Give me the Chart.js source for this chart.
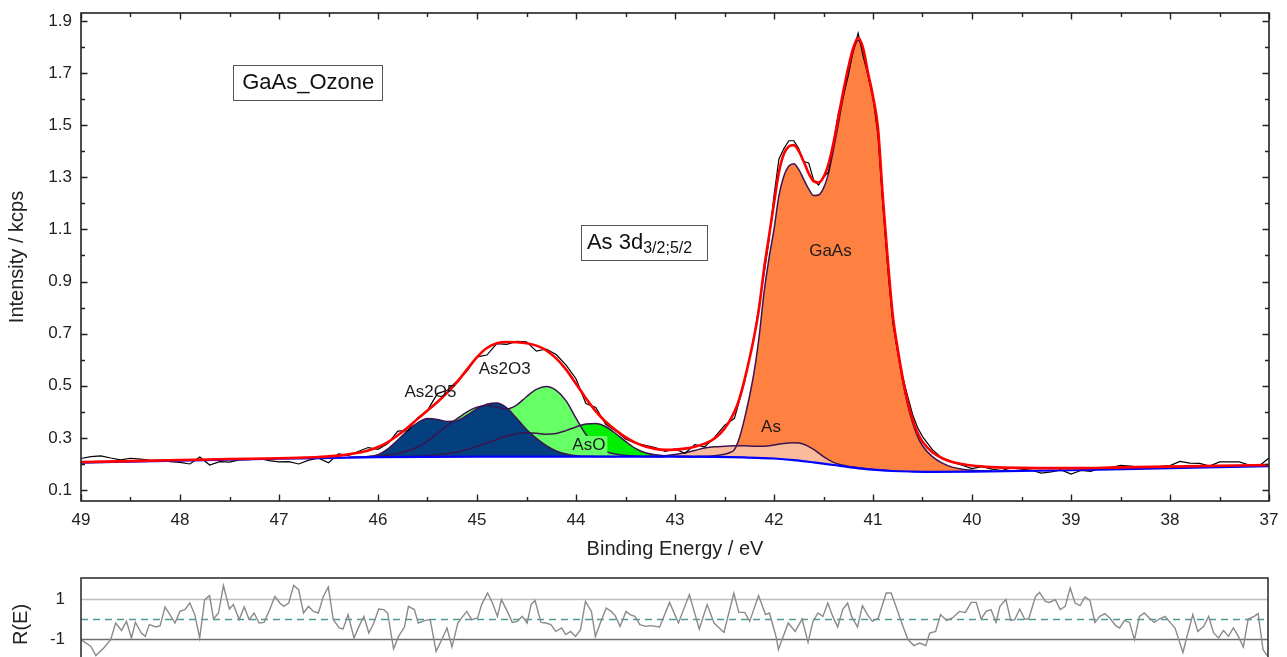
<!DOCTYPE html>
<html>
<head>
<meta charset="utf-8">
<script src="https://cdn.jsdelivr.net/npm/chart.js@4.4.1/dist/chart.umd.min.js"></script>
<style>
html,body{margin:0;padding:0;background:#fff;overflow:hidden;width:1287px;height:657px;}
#main{position:absolute;left:0;top:0;}
#res{position:absolute;left:0;top:568px;}
</style>
</head>
<body>
<canvas id="main" width="1287" height="568"></canvas>
<canvas id="res" width="1287" height="110"></canvas>
<script>
// ---------------- data (binding energy in eV, intensity in kcps) ----------------
const dataE = [49.0,48.9,48.8,48.7,48.6,48.5,48.4,48.3,48.2,48.1,48.0,47.9,47.8,47.7,47.6,47.5,47.4,47.3,47.2,47.1,47.0,46.9,46.8,46.7,46.6,46.5,46.4,46.3,46.2,46.1,46.0,45.9,45.8,45.7,45.6,45.5,45.4,45.3,45.2,45.1,45.0,44.9,44.8,44.7,44.6,44.5,44.4,44.3,44.2,44.1,44.0,43.9,43.8,43.7,43.6,43.5,43.4,43.3,43.2,43.1,43.0,42.9,42.8,42.7,42.6,42.5,42.4,42.3,42.2,42.1,42.05,42.0,41.95,41.9,41.85,41.8,41.75,41.7,41.65,41.6,41.55,41.5,41.45,41.4,41.35,41.3,41.25,41.2,41.15,41.1,41.05,41.0,40.95,40.9,40.85,40.8,40.75,40.7,40.65,40.6,40.55,40.5,40.45,40.4,40.3,40.2,40.1,40.0,39.9,39.8,39.7,39.6,39.5,39.4,39.3,39.2,39.1,39.0,38.9,38.8,38.7,38.6,38.5,38.4,38.3,38.2,38.1,38.0,37.9,37.8,37.7,37.6,37.5,37.4,37.3,37.2,37.1,37.0];
const dataI = [0.221,0.228,0.231,0.223,0.216,0.222,0.219,0.214,0.215,0.209,0.206,0.200,0.227,0.196,0.209,0.207,0.216,0.217,0.221,0.213,0.208,0.209,0.200,0.215,0.222,0.205,0.239,0.233,0.248,0.263,0.256,0.278,0.326,0.328,0.377,0.406,0.470,0.483,0.519,0.557,0.611,0.618,0.662,0.659,0.670,0.669,0.633,0.641,0.620,0.579,0.527,0.432,0.417,0.352,0.327,0.296,0.280,0.272,0.263,0.248,0.258,0.241,0.274,0.266,0.302,0.348,0.375,0.51,0.69,0.93,1.06,1.23,1.37,1.41,1.44,1.44,1.41,1.36,1.355,1.29,1.27,1.30,1.32,1.43,1.545,1.61,1.69,1.785,1.852,1.765,1.69,1.605,1.46,1.19,0.945,0.74,0.63,0.535,0.46,0.39,0.34,0.305,0.28,0.255,0.221,0.207,0.195,0.182,0.190,0.180,0.175,0.185,0.180,0.176,0.165,0.170,0.177,0.161,0.175,0.172,0.185,0.186,0.195,0.192,0.187,0.189,0.191,0.194,0.210,0.203,0.202,0.192,0.208,0.208,0.208,0.196,0.192,0.223];

const envE = [49.0,48.5,48.0,47.5,47.0,46.8,46.6,46.4,46.3,46.2,46.1,46.0,45.9,45.8,45.7,45.6,45.5,45.4,45.3,45.2,45.1,45.0,44.9,44.8,44.7,44.6,44.5,44.4,44.3,44.2,44.1,44.0,43.9,43.8,43.7,43.6,43.5,43.4,43.3,43.2,43.1,43.0,42.9,42.8,42.7,42.6,42.5,42.4,42.35,42.3,42.25,42.2,42.15,42.1,42.05,42.0,41.95,41.9,41.85,41.8,41.75,41.7,41.65,41.6,41.55,41.5,41.45,41.4,41.35,41.3,41.25,41.2,41.15,41.1,41.05,41.0,40.95,40.9,40.85,40.8,40.75,40.7,40.65,40.6,40.55,40.5,40.4,40.3,40.2,40.1,40.0,39.8,39.5,39.0,38.5,38.0,37.5,37.0];
const envI = [0.207,0.211,0.215,0.219,0.222,0.224,0.227,0.232,0.237,0.243,0.252,0.265,0.284,0.310,0.340,0.373,0.405,0.438,0.474,0.515,0.563,0.610,0.645,0.663,0.668,0.667,0.663,0.654,0.636,0.605,0.562,0.508,0.452,0.402,0.362,0.330,0.303,0.282,0.267,0.258,0.254,0.255,0.259,0.266,0.278,0.298,0.335,0.400,0.450,0.520,0.600,0.690,0.800,0.950,1.075,1.200,1.320,1.390,1.418,1.423,1.400,1.360,1.315,1.285,1.280,1.300,1.350,1.430,1.530,1.630,1.720,1.795,1.835,1.795,1.700,1.610,1.490,1.220,0.980,0.770,0.640,0.530,0.440,0.370,0.320,0.285,0.245,0.222,0.208,0.200,0.194,0.188,0.185,0.184,0.187,0.190,0.193,0.196];

const bgE = [49.0,48.0,47.0,46.0,45.0,44.0,43.0,42.6,42.3,42.0,41.8,41.6,41.4,41.2,41.0,40.8,40.6,40.4,40.0,39.0,38.0,37.0];
const bgI = [0.205,0.213,0.220,0.226,0.228,0.228,0.228,0.227,0.225,0.221,0.215,0.206,0.196,0.186,0.178,0.173,0.171,0.170,0.171,0.176,0.184,0.192];

const as2o5E = [46.3,46.1,46.0,45.9,45.8,45.7,45.6,45.5,45.4,45.3,45.2,45.1,45.0,44.9,44.8,44.7,44.6,44.5,44.4,44.3,44.2,44.1,44.0,43.8,43.6];
const as2o5I = [0.226,0.229,0.236,0.258,0.292,0.328,0.358,0.374,0.371,0.363,0.366,0.387,0.412,0.429,0.434,0.415,0.375,0.332,0.298,0.270,0.250,0.238,0.232,0.229,0.228];

const as2o3E = [46.2,46.0,45.8,45.6,45.5,45.4,45.3,45.2,45.1,45.0,44.9,44.8,44.7,44.6,44.5,44.4,44.3,44.2,44.1,44.0,43.9,43.8,43.7,43.6,43.5,43.3,43.1];
const as2o3I = [0.226,0.230,0.240,0.265,0.288,0.318,0.348,0.374,0.400,0.418,0.424,0.418,0.411,0.426,0.458,0.486,0.497,0.482,0.442,0.376,0.313,0.270,0.248,0.238,0.233,0.229,0.228];

const asoE = [45.8,45.6,45.4,45.2,45.0,44.8,44.7,44.6,44.5,44.4,44.3,44.2,44.1,44.0,43.9,43.8,43.7,43.6,43.5,43.4,43.3,43.2,43.0,42.8];
const asoI = [0.228,0.230,0.235,0.246,0.268,0.294,0.307,0.316,0.320,0.318,0.314,0.317,0.328,0.342,0.353,0.355,0.343,0.317,0.287,0.260,0.243,0.235,0.230,0.228];

const asE = [43.3,43.1,43.0,42.9,42.8,42.7,42.6,42.5,42.4,42.3,42.2,42.1,42.0,41.9,41.8,41.7,41.6,41.5,41.4,41.3,41.2,41.0,40.8];
const asI = [0.229,0.232,0.236,0.243,0.252,0.261,0.266,0.268,0.270,0.270,0.268,0.268,0.273,0.279,0.281,0.276,0.256,0.228,0.206,0.195,0.188,0.179,0.173];

const gaasE = [43.0,42.8,42.6,42.5,42.45,42.4,42.35,42.3,42.25,42.2,42.15,42.1,42.05,42.0,41.95,41.9,41.85,41.8,41.75,41.7,41.65,41.6,41.55,41.5,41.45,41.4,41.35,41.3,41.25,41.2,41.15,41.1,41.05,41.0,40.95,40.9,40.85,40.8,40.75,40.7,40.65,40.6,40.55,40.5,40.4,40.3,40.2,40.1,40.0,39.8];
const gaasI = [0.228,0.229,0.232,0.237,0.243,0.255,0.300,0.370,0.455,0.555,0.690,0.860,0.990,1.100,1.230,1.305,1.343,1.352,1.330,1.292,1.255,1.230,1.232,1.258,1.315,1.405,1.505,1.610,1.705,1.783,1.825,1.787,1.693,1.603,1.482,1.212,0.972,0.762,0.630,0.518,0.428,0.358,0.306,0.270,0.228,0.203,0.188,0.180,0.176,0.173];

// residual R(E)
const resE = [49.00,48.90,48.85,48.77,48.70,48.65,48.59,48.54,48.49,48.45,
48.39,48.35,48.31,48.24,48.20,48.15,48.09,48.05,48.00,47.95,
47.90,47.85,47.80,47.75,47.70,47.66,47.61,47.56,47.50,47.46,
47.40,47.35,47.30,47.25,47.20,47.15,47.10,47.04,46.99,46.95,
46.90,46.85,46.80,46.75,46.70,46.65,46.60,46.55,46.50,46.45,
46.39,46.35,46.30,46.24,46.19,46.14,46.09,46.04,45.99,45.94,
45.90,45.84,45.79,45.73,45.69,45.63,45.59,45.52,45.47,45.41,
45.35,45.30,45.25,45.19,45.14,45.10,45.05,44.99,44.95,44.89,
44.84,44.79,44.75,44.69,44.64,44.59,44.54,44.49,44.45,44.41,
44.35,44.30,44.25,44.20,44.14,44.10,44.05,44.00,43.95,43.90,
43.84,43.80,43.75,43.69,43.64,43.60,43.55,43.49,43.45,43.40,
43.35,43.29,43.24,43.15,43.05,42.96,42.85,42.75,42.67,42.60,
42.50,42.40,42.35,42.29,42.24,42.15,42.08,42.04,41.97,41.95,
41.85,41.78,41.71,41.65,41.60,41.55,41.50,41.45,41.40,41.35,
41.30,41.25,41.21,41.15,41.10,41.05,41.00,40.94,40.86,40.81,
40.75,40.69,40.64,40.58,40.52,40.46,40.42,40.36,40.31,40.25,
40.19,40.12,40.06,40.00,39.95,39.90,39.85,39.80,39.75,39.71,
39.65,39.60,39.56,39.51,39.46,39.42,39.35,39.31,39.25,39.21,
39.15,39.10,39.05,39.00,38.95,38.90,38.85,38.80,38.75,38.70,
38.65,38.60,38.54,38.50,38.45,38.40,38.35,38.30,38.25,38.20,
38.15,38.10,38.04,37.99,37.94,37.86,37.81,37.76,37.71,37.65,
37.60,37.55,37.50,37.45,37.40,37.35,37.30,37.25,37.20,37.14,
37.10,37.05,37.01];
const resR = [-1.03,-1.37,-1.83,-1.45,-1.03,-0.2,-0.57,-0.12,-0.95,-0.17,
-0.7,-0.87,-0.28,-0.4,-0.33,0.6,0.13,-0.2,0.38,0.47,
0.8,0.22,-0.95,0.97,1.17,0.0,0.3,1.67,0.5,0.72,
-0.03,0.6,-0.03,0.3,-0.2,-0.17,0.38,1.13,0.8,0.63,
0.8,1.68,1.47,0.3,0.63,0.38,0.3,1.13,1.6,-0.03,
-0.45,-0.5,0.22,-0.95,-0.37,0.13,-0.7,-0.2,0.5,0.47,
0.3,-1.5,-0.87,-0.4,0.63,0.47,-0.2,-0.07,-0.03,-1.62,
-1.0,-0.45,-1.4,-0.2,0.13,0.38,-0.03,0.05,0.72,1.3,
0.8,0.13,0.97,0.38,-0.17,-0.12,0.13,-0.2,0.72,0.93,
-0.17,-0.2,-0.28,-0.62,-0.45,-0.78,-0.62,-0.87,-0.53,0.88,
0.38,-0.87,-0.2,0.55,0.38,0.17,-0.37,0.38,0.22,0.13,
-0.28,-0.37,-0.33,-0.4,0.83,-0.2,1.22,-0.5,0.72,-0.2,
-0.67,1.3,0.33,0.33,-0.12,1.17,0.22,0.3,-0.95,-1.53,
-0.2,-0.62,0.0,-1.17,-0.12,0.3,0.13,0.8,0.13,-0.4,
0.47,0.8,0.13,-0.4,0.67,0.22,-0.12,0.05,1.3,1.3,
0.47,-0.37,-1.03,-1.33,-1.2,-1.33,-0.7,-0.62,0.22,-0.07,
0.05,0.38,0.33,0.83,0.83,0.0,0.38,0.47,-0.17,0.63,
0.97,-0.07,-0.03,0.5,0.0,0.0,1.13,1.33,0.88,0.83,
0.97,0.47,0.63,1.55,0.8,0.67,1.1,0.93,-0.17,0.13,
0.27,0.05,-0.33,-0.45,-0.07,-0.17,-1.03,0.13,0.3,0.05,
-0.17,0.0,0.13,-0.17,-0.45,-1.67,-0.7,0.22,-0.62,-0.37,
0.13,-0.7,-0.95,-0.57,-0.87,-0.45,-0.87,-1.4,0.0,0.13,
0.27,-1.53,-1.83];

// tick values and labels
const xTickValues = [49,48.5,48,47.5,47,46.5,46,45.5,45,44.5,44,43.5,43,42.5,42,41.5,41,40.5,40,39.5,39,38.5,38,37.5,37];
const xTickLabels = ['49','','48','','47','','46','','45','','44','','43','','42','','41','','40','','39','','38','','37'];
const yTickValues = [0.1,0.2,0.3,0.4,0.5,0.6,0.7,0.8,0.9,1.0,1.1,1.2,1.3,1.4,1.5,1.6,1.7,1.8,1.9];
const yTickLabels = ['0.1','','0.3','','0.5','','0.7','','0.9','','1.1','','1.3','','1.5','','1.7','','1.9'];
const resTickValues = [-1, 1];
const resTickLabels = ['-1', '1'];

// ---------------- styling ----------------
const FONT = "'Liberation Sans', Arial, Helvetica, sans-serif";
const INK = '#222';
const OUTLINE = '#3b1450';
const pts = (xs, ys) => xs.map((x, i) => ({x: x, y: ys[i]}));

function component(label, xs, ys, color) {
  return {label, data: pts(xs, ys), borderColor: OUTLINE, borderWidth: 1.5,
    backgroundColor: color, fill: 1, pointRadius: 0, cubicInterpolationMode: 'monotone'};
}

const peakNotes = [
  {text: 'As2O5', E: 45.47, I: 0.476},
  {text: 'As2O3', E: 44.72, I: 0.564},
  {text: 'AsO', E: 43.87, I: 0.273, bg: '#66ff66'},
  {text: 'GaAs', E: 41.43, I: 1.017},
  {text: 'As', E: 42.03, I: 0.340}
];
const boxNotes = [
  {E0: 47.46, E1: 45.95, I0: 1.730, I1: 1.596, parts: [{t: 'GaAs_Ozone', size: 22, dy: 0}], align: 'center'},
  {E0: 43.95, E1: 42.68, I0: 1.116, I1: 0.982, parts: [{t: 'As 3d', size: 22, dy: 0}, {t: '3/2;5/2', size: 16, dy: 6}], align: 'left'}
];

const decorMain = {
  id: 'decorMain',
  afterDatasetsDraw(chart) {
    const {ctx, chartArea: a, scales: {x, y}} = chart;
    ctx.save();
    // peak labels
    ctx.textAlign = 'center';
    ctx.textBaseline = 'middle';
    ctx.font = '17px ' + FONT;
    peakNotes.forEach(n => {
      const px = x.getPixelForValue(n.E), py = y.getPixelForValue(n.I);
      if (n.bg) {
        const w = ctx.measureText(n.text).width;
        ctx.fillStyle = n.bg;
        ctx.fillRect(px - w / 2 - 2, py - 9, w + 4, 18);
      }
      ctx.fillStyle = '#1a1a1a';
      ctx.fillText(n.text, px, py);
    });
    // boxed notes
    boxNotes.forEach(b => {
      const l = x.getPixelForValue(b.E0), r = x.getPixelForValue(b.E1);
      const t = y.getPixelForValue(b.I0), bt = y.getPixelForValue(b.I1);
      ctx.fillStyle = '#fff';
      ctx.fillRect(l, t, r - l, bt - t);
      ctx.strokeStyle = '#555';
      ctx.lineWidth = 1;
      ctx.strokeRect(Math.round(l) + 0.5, Math.round(t) + 0.5, Math.round(r - l), Math.round(bt - t));
      let total = 0;
      b.parts.forEach(p => { ctx.font = p.size + 'px ' + FONT; total += ctx.measureText(p.t).width; });
      let cx = b.align === 'center' ? (l + r) / 2 - total / 2 : l + 6;
      const cy = (t + bt) / 2;
      ctx.textAlign = 'left';
      ctx.fillStyle = '#111';
      b.parts.forEach(p => {
        ctx.font = p.size + 'px ' + FONT;
        ctx.fillText(p.t, cx, cy + p.dy);
        cx += ctx.measureText(p.t).width;
      });
    });
    // frame
    ctx.strokeStyle = INK;
    ctx.lineWidth = 1.6;
    ctx.strokeRect(a.left, a.top, a.right - a.left, a.bottom - a.top);
    // inward ticks on all four sides
    ctx.lineWidth = 1.4;
    ctx.beginPath();
    xTickValues.forEach((v, i) => {
      const px = Math.round(x.getPixelForValue(v)) + 0.5;
      const len = xTickLabels[i] ? 6.5 : 4;
      ctx.moveTo(px, a.bottom); ctx.lineTo(px, a.bottom - len);
      ctx.moveTo(px, a.top); ctx.lineTo(px, a.top + len);
    });
    yTickValues.forEach((v, i) => {
      const py = Math.round(y.getPixelForValue(v)) + 0.5;
      const len = yTickLabels[i] ? 6.5 : 4;
      ctx.moveTo(a.left, py); ctx.lineTo(a.left + len, py);
      ctx.moveTo(a.right, py); ctx.lineTo(a.right - len, py);
    });
    ctx.stroke();
    ctx.restore();
  }
};

new Chart(document.getElementById('main'), {
  type: 'line',
  data: {
    datasets: [
      {label: 'Envelope', data: pts(envE, envI), borderColor: '#ff0000', borderWidth: 2.6, pointRadius: 0, fill: false, cubicInterpolationMode: 'monotone'},
      {label: 'Background', data: pts(bgE, bgI), borderColor: '#0000ff', borderWidth: 2.2, pointRadius: 0, fill: false, cubicInterpolationMode: 'monotone'},
      {label: 'Data', data: pts(dataE, dataI), borderColor: '#000000', borderWidth: 1.2, pointRadius: 0, fill: false, tension: 0},
      component('As2O5', as2o5E, as2o5I, '#04407f'),
      component('As2O3', as2o3E, as2o3I, '#66ff66'),
      component('AsO', asoE, asoI, '#00ee00'),
      component('As', asE, asI, '#f9bb9b'),
      component('GaAs', gaasE, gaasI, '#ff8142')
    ]
  },
  options: {
    responsive: false,
    animation: false,
    devicePixelRatio: 1,
    layout: {padding: {left: 0, top: 13, right: 18, bottom: 0}},
    plugins: {
      legend: {display: false},
      tooltip: {enabled: false},
      filler: {drawTime: 'beforeDatasetsDraw', propagate: false}
    },
    scales: {
      x: {
        type: 'linear', reverse: true, min: 37, max: 49,
        afterBuildTicks: ax => { ax.ticks = xTickValues.map(v => ({value: v})); },
        afterFit: ax => { ax.height = 67; ax.paddingLeft = 0; ax.paddingRight = 0; },
        ticks: {callback: (v, i) => xTickLabels[i], font: {family: FONT, size: 17}, color: INK, padding: 9, maxRotation: 0, autoSkip: false},
        grid: {display: false, drawTicks: false},
        border: {display: false},
        title: {display: true, text: 'Binding Energy / eV', font: {family: FONT, size: 20}, color: INK, padding: {top: 0, bottom: 7}}
      },
      y: {
        type: 'linear', min: 0.058, max: 1.93,
        afterBuildTicks: ax => { ax.ticks = yTickValues.map(v => ({value: v})); },
        afterFit: ax => { ax.width = 81; ax.paddingTop = 0; ax.paddingBottom = 0; },
        ticks: {callback: (v, i) => yTickLabels[i], font: {family: FONT, size: 17}, color: INK, padding: 9, autoSkip: false},
        grid: {display: false, drawTicks: false},
        border: {display: false},
        title: {display: true, text: 'Intensity / kcps', font: {family: FONT, size: 20}, color: INK, padding: {top: 5, bottom: 0}}
      }
    }
  },
  plugins: [decorMain]
});

// ---------------- residual panel ----------------
const decorRes = {
  id: 'decorRes',
  beforeDatasetsDraw(chart) {
    const {ctx, chartArea: a, scales: {y}} = chart;
    ctx.save();
    const line = (v, color, dash, w) => {
      const py = Math.round(y.getPixelForValue(v)) + 0.5;
      ctx.strokeStyle = color; ctx.lineWidth = w; ctx.setLineDash(dash);
      ctx.beginPath(); ctx.moveTo(a.left, py); ctx.lineTo(a.right, py); ctx.stroke();
    };
    line(1, '#bdbdbd', [], 1.3);
    line(-1, '#6e6e6e', [], 1.3);
    line(0, '#4f9a97', [7, 5], 1.6);
    ctx.restore();
  },
  afterDatasetsDraw(chart) {
    const {ctx, chartArea: a} = chart;
    ctx.save();
    ctx.strokeStyle = '#333';
    ctx.lineWidth = 1.6;
    ctx.strokeRect(a.left, a.top, a.right - a.left, a.bottom - a.top);
    ctx.restore();
  }
};

new Chart(document.getElementById('res'), {
  type: 'line',
  data: {datasets: [{label: 'R(E)', data: pts(resE, resR), borderColor: '#8a8a8a', borderWidth: 1.4, pointRadius: 0, fill: false, tension: 0}]},
  options: {
    responsive: false,
    animation: false,
    devicePixelRatio: 1,
    layout: {padding: {left: 0, top: 10, right: 19, bottom: 7}},
    plugins: {legend: {display: false}, tooltip: {enabled: false}},
    scales: {
      x: {type: 'linear', reverse: true, min: 37, max: 49, display: false},
      y: {
        type: 'linear', min: -2.6, max: 2.05,
        afterBuildTicks: ax => { ax.ticks = resTickValues.map(v => ({value: v})); },
        afterFit: ax => { ax.width = 81; ax.paddingTop = 0; ax.paddingBottom = 0; },
        ticks: {callback: (v, i) => resTickLabels[i], font: {family: FONT, size: 17}, color: INK, padding: 16},
        grid: {display: false, drawTicks: false},
        border: {display: false},
        title: {display: true, text: 'R(E)', font: {family: FONT, size: 20}, color: INK, padding: {top: 9, bottom: 0}}
      }
    }
  },
  plugins: [decorRes]
});
</script>
</body>
</html>
